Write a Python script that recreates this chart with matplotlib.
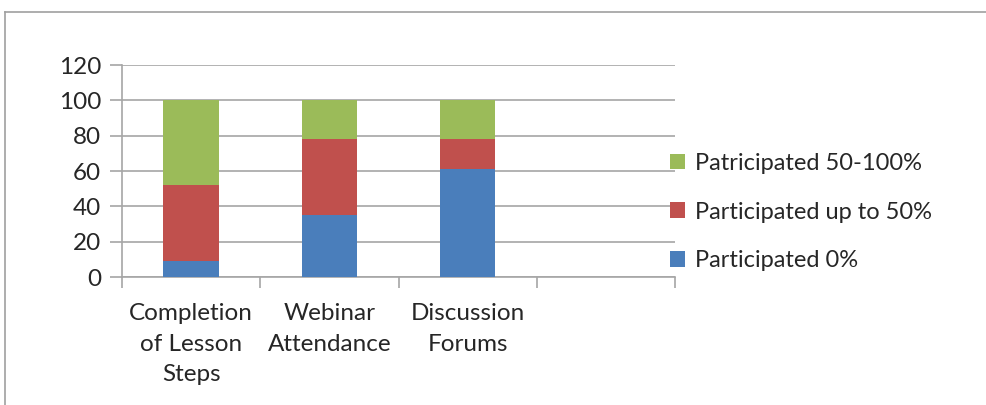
import matplotlib.pyplot as plt
import numpy as np
from matplotlib.lines import Line2D

# data
categories = ["Completion\nof Lesson\nSteps", "Webinar\nAttendance", "Discussion\nForums", ""]
part_0 = [9, 35, 61]
part_upto50 = [43, 43, 17]
part_50_100 = [48, 22, 22]
series_names = ["Participated 0%", "Participated up to 50%", "Patricipated 50-100%"]
colors = ["#4a7ebb", "#c0504d", "#9bbb59"]

plt.rcParams['font.family'] = ['Lato', 'DejaVu Sans']

fig = plt.figure(figsize=(9.87, 4.05), dpi=100)
ax = fig.add_axes([0.1236, 0.316, 0.5604, 0.5235])

x = np.arange(len(part_0))
bottom = np.zeros(len(part_0))
bars = []
for vals, name, c in zip([part_0, part_upto50, part_50_100], series_names, colors):
    b = ax.bar(x, vals, width=0.4, bottom=bottom, color=c, label=name, zorder=3)
    bars.append(b)
    bottom += np.array(vals)

ax.set_xlim(-0.5, len(categories) - 0.5)
ax.set_ylim(0, 120)
ax.set_yticks(range(0, 121, 20))
ax.yaxis.grid(True, color="#a6a6a6", linewidth=1.2, zorder=0)

# category labels centred in slots, ticks on slot boundaries
ax.set_xticks(np.arange(len(categories) + 1) - 0.5)
ax.set_xticklabels([])
ax.set_xticks(np.arange(len(categories)), minor=True)
ax.set_xticklabels(categories, minor=True, fontsize=17.5, color="#262626", linespacing=1.55)
ax.tick_params(axis="x", which="minor", length=0, pad=19)
ax.tick_params(axis="x", which="major", length=8, color="#a6a6a6", width=1.2)
ax.tick_params(axis="y", length=9, color="#a6a6a6", width=1.2, labelsize=17.5,
               labelcolor="#262626", pad=6)

for s in ["top", "right"]:
    ax.spines[s].set_visible(False)
for s in ["left", "bottom"]:
    ax.spines[s].set_color("#a6a6a6")
    ax.spines[s].set_linewidth(1.2)

handles = bars[::-1]
labels = series_names[::-1]
fig.legend(handles, labels, loc="center left", bbox_to_anchor=(0.657, 0.4765),
           frameon=False, fontsize=17, handlelength=0.65, handleheight=0.65,
           handletextpad=0.4, labelspacing=1.17, labelcolor="#262626")

# outer chart frame
fig.add_artist(Line2D([5 / 987, 5 / 987], [0, 1 - 12 / 405], color="#a0a0a0",
                      linewidth=1.2, transform=fig.transFigure))
fig.add_artist(Line2D([5 / 987, 1], [1 - 12 / 405, 1 - 12 / 405], color="#a0a0a0",
                      linewidth=1.2, transform=fig.transFigure))

fig.savefig("out.png", dpi=100)
